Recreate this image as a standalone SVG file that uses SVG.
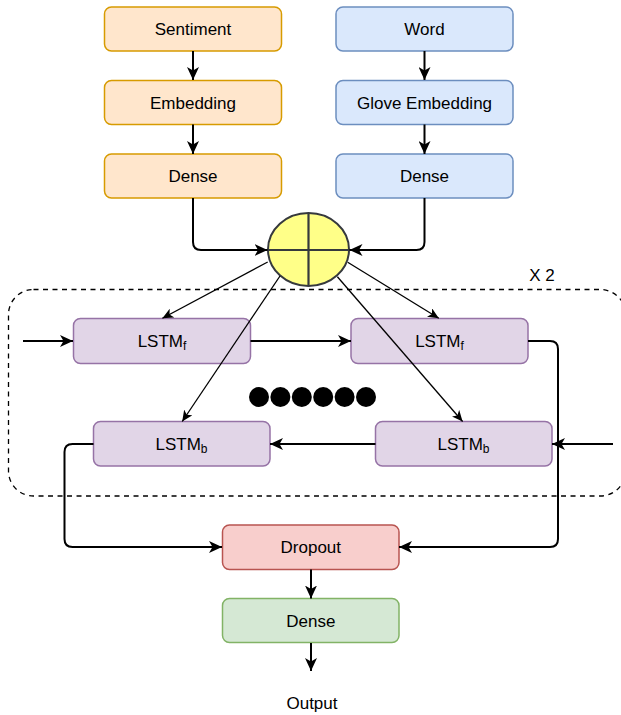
<svg xmlns="http://www.w3.org/2000/svg" width="621" height="715" viewBox="0 0 621 715">
<style>
text{font-family:"Liberation Sans",Arial,sans-serif;font-size:17px;fill:#000;text-anchor:middle}
.or{fill:#ffe6cc;stroke:#d79b00;stroke-width:1.5}
.bl{fill:#dae8fc;stroke:#6c8ebf;stroke-width:1.5}
.pu{fill:#e1d5e7;stroke:#9673a6;stroke-width:1.5}
.rd{fill:#f8cecc;stroke:#b85450;stroke-width:1.5}
.gr{fill:#d5e8d4;stroke:#82b366;stroke-width:1.5}
.thick{fill:none;stroke:#000;stroke-width:2;marker-end:url(#ah)}
.thin{fill:none;stroke:#000;stroke-width:1.3;marker-end:url(#ahs)}
</style>
<defs>
<marker id="ah" markerUnits="userSpaceOnUse" markerWidth="14" markerHeight="12" refX="13" refY="6" orient="auto">
<path d="M0,0 L13,6 L0,12 L3.5,6 Z" fill="#000"/>
</marker>
<marker id="ahs" markerUnits="userSpaceOnUse" markerWidth="12" markerHeight="10" refX="11" refY="5" orient="auto">
<path d="M0,0 L11,5 L0,10 L3,5 Z" fill="#000"/>
</marker>
</defs>
<g id="repeat-frame">
<rect x="8.5" y="289.5" width="617" height="206.5" rx="25" ry="25" fill="none" stroke="#000" stroke-width="1.3" stroke-dasharray="5 4.5"/>
<text x="542" y="281">X 2</text>
</g>
<g id="sentiment"><rect class="or" x="104.5" y="7" width="177" height="44" rx="7"/><text x="193" y="35">Sentiment</text></g>
<g id="embedding"><rect class="or" x="104.5" y="80.5" width="177" height="44" rx="7"/><text x="193" y="108.5">Embedding</text></g>
<g id="dense-left"><rect class="or" x="104.5" y="154" width="177" height="44" rx="7"/><text x="193" y="182">Dense</text></g>
<g id="word"><rect class="bl" x="336" y="7" width="177" height="44" rx="7"/><text x="424.5" y="35">Word</text></g>
<g id="glove"><rect class="bl" x="336" y="80.5" width="177" height="44" rx="7"/><text x="424.5" y="108.5">Glove Embedding</text></g>
<g id="dense-right"><rect class="bl" x="336" y="154" width="177" height="44" rx="7"/><text x="424.5" y="182">Dense</text></g>
<g id="concat">
<ellipse cx="308.5" cy="249.5" rx="40.5" ry="36.5" fill="#ffff88" stroke="#36393d" stroke-width="2"/>
<path d="M268,250 H349 M308.5,213 V286" stroke="#36393d" stroke-width="2.2"/>
</g>
<g id="lstmf-1"><rect class="pu" x="73.5" y="318.5" width="177" height="45" rx="7"/><text x="162" y="347">LSTM<tspan font-size="12" dy="3">f</tspan></text></g>
<g id="lstmf-2"><rect class="pu" x="351" y="318.5" width="177" height="45" rx="7"/><text x="439.5" y="347">LSTM<tspan font-size="12" dy="3">f</tspan></text></g>
<g id="lstmb-1"><rect class="pu" x="93.5" y="421.5" width="176.5" height="44.5" rx="7"/><text x="181.5" y="450">LSTM<tspan font-size="12" dy="3">b</tspan></text></g>
<g id="lstmb-2"><rect class="pu" x="375.5" y="421.5" width="176.5" height="44.5" rx="7"/><text x="463.5" y="450">LSTM<tspan font-size="12" dy="3">b</tspan></text></g>
<g id="dots" fill="#000">
<circle cx="259" cy="397" r="10"/><circle cx="280.4" cy="397" r="10"/><circle cx="301.8" cy="397" r="10"/><circle cx="323.2" cy="397" r="10"/><circle cx="344.6" cy="397" r="10"/><circle cx="366" cy="397" r="10"/>
</g>
<g id="dropout"><rect class="rd" x="222.5" y="525" width="176.5" height="44.5" rx="7"/><text x="310.8" y="553">Dropout</text></g>
<g id="dense-out"><rect class="gr" x="222.5" y="598.5" width="176.5" height="44" rx="7"/><text x="310.8" y="627">Dense</text></g>
<g id="output"><text x="312" y="708.5">Output</text></g>
<g id="connectors">
<path class="thick" d="M193,51 V80"/>
<path class="thick" d="M193,124.5 V154"/>
<path class="thick" d="M424.5,51 V80"/>
<path class="thick" d="M424.5,124.5 V154"/>
<path class="thick" d="M193,198 V242 Q193,250 201,250 H267.5"/>
<path class="thick" d="M424.5,198 V242 Q424.5,250 416.5,250 H349.5"/>
<path class="thin" d="M267.7,262 L162.4,318.3"/>
<path class="thin" d="M280,276 L182.2,421.5"/>
<path class="thin" d="M347.7,262.3 L438.8,318.3"/>
<path class="thin" d="M337.4,276.7 L462.6,421.5"/>
<path class="thick" d="M23,341 H73"/>
<path class="thick" d="M250.5,341 H351"/>
<path class="thick" d="M613,444 H552"/>
<path class="thick" d="M375.5,444 H270"/>
<path class="thick" d="M528,341 H550 Q558,341 558,349 V539 Q558,547 550,547 H399"/>
<path class="thick" d="M93.5,444 H72.5 Q64.5,444 64.5,452 V539 Q64.5,547 72.5,547 H222"/>
<path class="thick" d="M311,569.5 V598.5"/>
<path class="thick" d="M311,643 V671"/>
</g>
</svg>
